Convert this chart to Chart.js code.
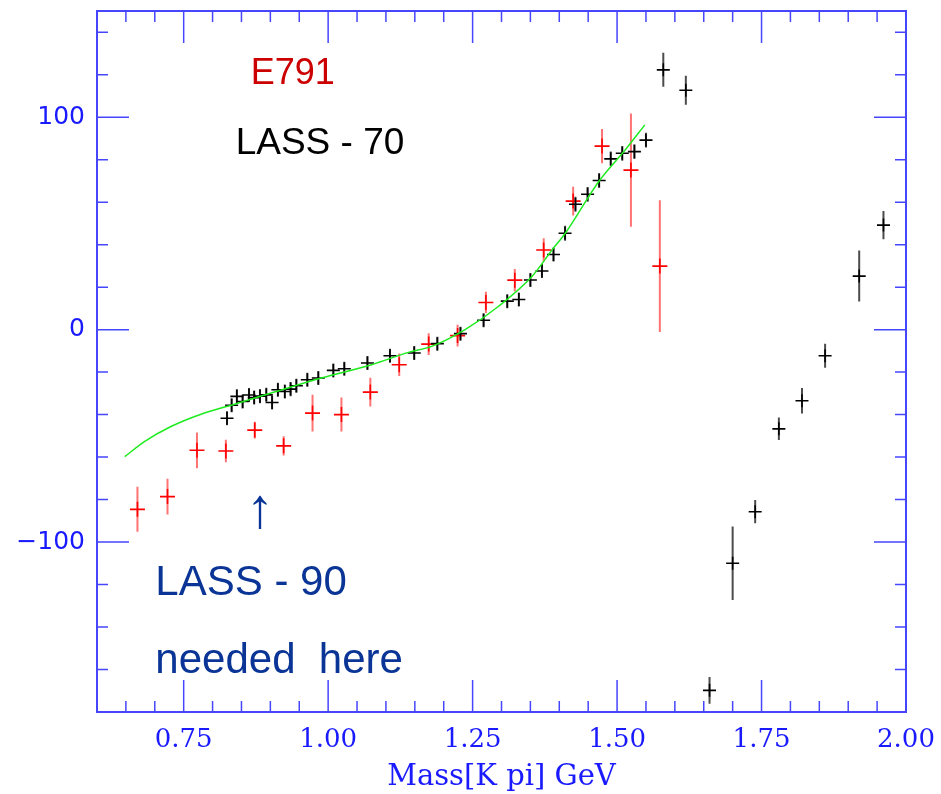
<!DOCTYPE html>
<html>
<head>
    <title>K pi S-wave phase vs mass</title>
    <script src="https://cdn.jsdelivr.net/npm/chart.js"></script>
    <style>
        body { margin: 0; background: #fff; }
    </style>
</head>
<body>
    <canvas id="myChart" width="941" height="794"></canvas>
    <script>
        // E791 phase points (red), mass in GeV, phase in degrees
        const e791Mass = [0.670, 0.722, 0.773, 0.823, 0.873, 0.923, 0.973, 1.023, 1.073, 1.123,
                          1.174, 1.224, 1.273, 1.323, 1.373, 1.424, 1.474, 1.524, 1.574];
        const e791Phase = [-84.6, -78.6, -56.8, -57.1, -47.3, -54.7, -39.3, -40.0, -29.4, -16.5,
                           -6.8, -2.8, 12.8, 23.3, 37.5, 60.5, 86.4, 75.1, 29.9];
        const e791Err = [10.6, 8.4, 8.4, 5.3, 3.9, 4.5, 8.7, 8.0, 6.8, 5.3,
                         5.1, 5.1, 5.0, 5.3, 5.5, 6.8, 8.1, 26.7, 31.0];

        // LASS phase points (black)
        const lassMass = [0.825, 0.833, 0.842, 0.852, 0.863, 0.872, 0.882, 0.893, 0.903, 0.913,
                          0.925, 0.935, 0.945, 0.964, 0.983, 1.009, 1.028, 1.068, 1.107, 1.149,
                          1.189, 1.229, 1.269, 1.310, 1.330, 1.350, 1.370, 1.390, 1.410, 1.428,
                          1.449, 1.469, 1.489, 1.509, 1.530, 1.550, 1.580, 1.619, 1.660, 1.700,
                          1.739, 1.780, 1.820, 1.860, 1.919, 1.961];
        const lassPhase = [-41.7, -35.6, -31.4, -33.8, -30.8, -32.0, -31.3, -30.7, -34.3, -28.3,
                           -29.1, -28.0, -26.4, -23.6, -22.8, -19.2, -18.4, -15.7, -12.3, -11.0,
                           -6.6, -1.9, 4.4, 13.4, 14.2, 23.4, 27.6, 35.4, 45.4, 59.0,
                           63.7, 70.2, 80.4, 83.0, 83.8, 89.2, 122.3, 112.7, -169.8, -110.0,
                           -85.7, -46.7, -33.5, -12.3, 25.2, 49.2];
        const lassErr = [3.3, 3.3, 3.3, 3.3, 3.3, 3.3, 3.3, 3.3, 3.3, 3.3,
                         3.3, 3.3, 3.3, 3.3, 3.3, 3.3, 3.3, 3.3, 3.3, 3.3,
                         3.3, 3.3, 3.3, 3.3, 3.3, 3.3, 3.3, 3.3, 3.5, 3.5,
                         3.5, 3.5, 3.5, 3.5, 3.5, 3.5, 8.0, 6.8, 6.3, 17.3,
                         5.5, 5.3, 6.0, 5.7, 12.0, 6.7];

        // fitted curve (green)
        const fitMass = [0.648, 0.682, 0.728, 0.780, 0.838, 0.907, 0.988, 1.075, 1.139, 1.179,
                         1.237, 1.295, 1.353, 1.388, 1.411, 1.469, 1.515, 1.548];
        const fitPhase = [-59.8, -52.7, -45.6, -39.8, -35.1, -29.4, -22.8, -16.5, -10.7, -7.9,
                          0.0, 11.0, 25.1, 37.7, 45.6, 70.0, 84.9, 96.4];

        // axis ticks
        const xLabelTicks = [0.75, 1.00, 1.25, 1.50, 1.75, 2.00];
        const xMinorTicks = [0.65, 0.70, 0.80, 0.85, 0.90, 0.95, 1.05, 1.10, 1.15, 1.20, 1.30, 1.35,
                             1.40, 1.45, 1.55, 1.60, 1.65, 1.70, 1.80, 1.85, 1.90, 1.95];
        const yLabelTicks = [-100, 0, 100];
        const yMinorTicks = [-160, -140, -120, -80, -60, -40, -20, 20, 40, 60, 80, 120, 140];

        // text labels inside the plot: [text, mass, phase, colour, font]
        const notes = [
            ['E791', 0.866, 115.6, '#cc0000', '36px "Liberation Sans"'],
            ['LASS - 70', 0.840, 82.5, '#000000', '37px "Liberation Sans"'],
            ['\u2191', 0.882, -92.9, '#0a3596', '56px "Liberation Sans"'],
            ['LASS - 90', 0.701, -125.0, '#0a3596', '42px "Liberation Sans"'],
            ['needed  here', 0.701, -161.8, '#0a3596', '42px "Liberation Sans"']
        ];

        const toPoints = (xs, ys) => xs.map((x, i) => ({x: x, y: ys[i]}));

        const AXIS_BLUE = 'rgb(70,70,255)';
        const LABEL_BLUE = '#1a1aff';

        // frame, inward ticks on all four sides and vertical error bars
        const framePlugin = {
            id: 'frame',
            beforeDatasetsDraw(chart) {
                const {ctx, chartArea: a, scales: {x, y}} = chart;
                ctx.save();
                ctx.strokeStyle = AXIS_BLUE;
                ctx.lineWidth = 2;
                ctx.strokeRect(a.left, a.top, a.right - a.left, a.bottom - a.top);

                ctx.lineWidth = 1.5;
                ctx.beginPath();
                const xTick = (v, len) => {
                    const px = x.getPixelForValue(v);
                    ctx.moveTo(px, a.bottom); ctx.lineTo(px, a.bottom - len);
                    ctx.moveTo(px, a.top); ctx.lineTo(px, a.top + len);
                };
                const yTick = (v, len) => {
                    const py = y.getPixelForValue(v);
                    ctx.moveTo(a.left, py); ctx.lineTo(a.left + len, py);
                    ctx.moveTo(a.right, py); ctx.lineTo(a.right - len, py);
                };
                xLabelTicks.forEach(v => xTick(v, 32));
                xMinorTicks.forEach(v => xTick(v, 11));
                yLabelTicks.forEach(v => yTick(v, 32));
                yMinorTicks.forEach(v => yTick(v, 11));
                ctx.stroke();

                // error bars
                chart.data.datasets.forEach(ds => {
                    if (!ds.errors) return;
                    ctx.strokeStyle = ds.errorColor;
                    ctx.lineWidth = 2;
                    ctx.beginPath();
                    ds.data.forEach((p, i) => {
                        const px = x.getPixelForValue(p.x);
                        ctx.moveTo(px, y.getPixelForValue(p.y - ds.errors[i]));
                        ctx.lineTo(px, y.getPixelForValue(p.y + ds.errors[i]));
                    });
                    ctx.stroke();
                });
                ctx.restore();
            },
            afterDatasetsDraw(chart) {
                const {ctx, scales: {x, y}} = chart;
                ctx.save();
                ctx.textBaseline = 'alphabetic';
                notes.forEach(([text, m, v, color, font]) => {
                    ctx.font = font;
                    ctx.fillStyle = color;
                    ctx.textAlign = text === '\u2191' ? 'center' : 'left';
                    ctx.fillText(text, x.getPixelForValue(m), y.getPixelForValue(v));
                });
                ctx.restore();
            }
        };

        const ctx = document.getElementById('myChart').getContext('2d');
        new Chart(ctx, {
            type: 'scatter',
            data: {
                datasets: [
                    {
                        label: 'fit',
                        type: 'line',
                        data: toPoints(fitMass, fitPhase),
                        borderColor: 'rgb(30,235,30)',
                        borderWidth: 1.5,
                        pointRadius: 0,
                        cubicInterpolationMode: 'monotone',
                        fill: false,
                        order: 0
                    },
                    {
                        label: 'E791',
                        data: toPoints(e791Mass, e791Phase),
                        errors: e791Err,
                        errorColor: 'rgba(255,40,40,0.65)',
                        pointStyle: 'cross',
                        pointRadius: 7.5,
                        pointHoverRadius: 7.5,
                        borderColor: '#ff0000',
                        borderWidth: 1.6,
                        order: 2
                    },
                    {
                        label: 'LASS',
                        data: toPoints(lassMass, lassPhase),
                        errors: lassErr,
                        errorColor: 'rgba(0,0,0,0.7)',
                        pointStyle: 'cross',
                        pointRadius: 6.5,
                        pointHoverRadius: 6.5,
                        borderColor: '#000000',
                        borderWidth: 1.6,
                        order: 1
                    }
                ]
            },
            options: {
                responsive: false,
                animation: false,
                layout: { padding: { top: 11, right: 35, left: 0, bottom: 0 } },
                plugins: {
                    legend: { display: false },
                    tooltip: { enabled: false }
                },
                scales: {
                    x: {
                        type: 'linear',
                        min: 0.6,
                        max: 2.0,
                        grid: { display: false, drawTicks: false },
                        border: { display: false },
                        afterBuildTicks: s => { s.ticks = xLabelTicks.map(v => ({value: v})); },
                        afterFit: s => {
                            s.height = 82;
                            s.paddingLeft = 0;
                            s.paddingRight = 0;
                        },
                        ticks: {
                            autoSkip: false,
                            maxRotation: 0,
                            padding: 13,
                            color: LABEL_BLUE,
                            font: { family: 'DejaVu Serif', size: 26, weight: 'normal' },
                            callback: v => Number(v).toFixed(2)
                        },
                        title: {
                            display: true,
                            text: 'Mass[K pi] GeV',
                            color: LABEL_BLUE,
                            font: { family: 'DejaVu Serif', size: 29, lineHeight: 1 },
                            padding: { top: 0, bottom: 2 }
                        }
                    },
                    y: {
                        min: -180,
                        max: 150,
                        grid: { display: false, drawTicks: false },
                        border: { display: false },
                        afterBuildTicks: s => { s.ticks = yLabelTicks.map(v => ({value: v})); },
                        afterFit: s => {
                            s.width = 97;
                            s.paddingTop = 0;
                            s.paddingBottom = 0;
                        },
                        ticks: {
                            autoSkip: false,
                            padding: 12,
                            color: LABEL_BLUE,
                            font: { family: 'DejaVu Sans', size: 25 },
                            callback: v => String(v).replace('-', '\u2212')
                        }
                    }
                }
            },
            plugins: [framePlugin]
        });
    </script>
</body>
</html>
